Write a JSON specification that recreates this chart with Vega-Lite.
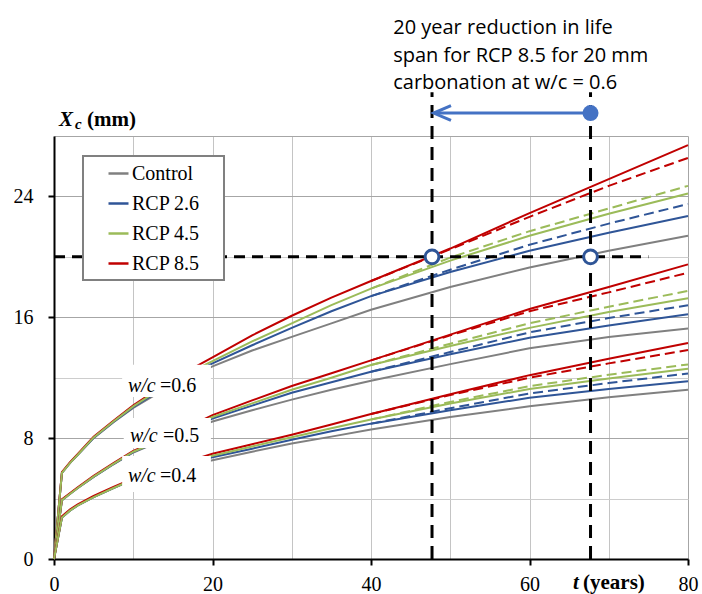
{
  "$schema": "https://vega.github.io/schema/vega-lite/v6.json",
  "width": 634,
  "height": 423,
  "autosize": {"type": "none"},
  "padding": {"left": 54, "top": 136, "right": 14, "bottom": 35},
  "background": "white",
  "config": {"view": {"stroke": null}, "legend": {"strokeWidth": 2}},
  "datasets": {
    "names": [
      {"k": "ctrl", "series": "Control"},
      {"k": "r26", "series": "RCP 2.6"},
      {"k": "r45", "series": "RCP 4.5"},
      {"k": "r85", "series": "RCP 8.5"}
    ],
    "solid": [
      {"w": "0.6", "t": 0, "ctrl": 0, "r26": 0, "r45": 0, "r85": 0},
      {"w": "0.6", "t": 1, "ctrl": 5.7, "r26": 5.7, "r45": 5.7, "r85": 5.75},
      {"w": "0.6", "t": 2, "ctrl": 6.35, "r26": 6.35, "r45": 6.35, "r85": 6.4},
      {"w": "0.6", "t": 3, "ctrl": 6.9, "r26": 6.9, "r45": 6.9, "r85": 6.95},
      {"w": "0.6", "t": 5, "ctrl": 8.0, "r26": 8.02, "r45": 8.05, "r85": 8.1},
      {"w": "0.6", "t": 7.5, "ctrl": 9.05, "r26": 9.07, "r45": 9.1, "r85": 9.15},
      {"w": "0.6", "t": 10, "ctrl": 10.0, "r26": 10.05, "r45": 10.1, "r85": 10.17},
      {"w": "0.6", "t": 15, "ctrl": 11.55, "r26": 11.7, "r45": 11.8, "r85": 11.9},
      {"w": "0.6", "t": 20, "ctrl": 12.75, "r26": 12.95, "r45": 13.1, "r85": 13.35},
      {"w": "0.6", "t": 25, "ctrl": 13.8, "r26": 14.15, "r45": 14.4, "r85": 14.8},
      {"w": "0.6", "t": 30, "ctrl": 14.7, "r26": 15.3, "r45": 15.6, "r85": 16.1},
      {"w": "0.6", "t": 35, "ctrl": 15.6, "r26": 16.4, "r45": 16.8, "r85": 17.3},
      {"w": "0.6", "t": 40, "ctrl": 16.5, "r26": 17.4, "r45": 17.9, "r85": 18.4},
      {"w": "0.6", "t": 50, "ctrl": 18.0, "r26": 19.0, "r45": 19.75, "r85": 20.55},
      {"w": "0.6", "t": 60, "ctrl": 19.3, "r26": 20.4, "r45": 21.4, "r85": 22.9},
      {"w": "0.6", "t": 70, "ctrl": 20.4, "r26": 21.6, "r45": 22.85, "r85": 25.15},
      {"w": "0.6", "t": 80, "ctrl": 21.4, "r26": 22.7, "r45": 24.2, "r85": 27.4},
      {"w": "0.5", "t": 0, "ctrl": 0, "r26": 0, "r45": 0, "r85": 0},
      {"w": "0.5", "t": 1, "ctrl": 3.9, "r26": 3.9, "r45": 3.9, "r85": 3.95},
      {"w": "0.5", "t": 2, "ctrl": 4.3, "r26": 4.3, "r45": 4.3, "r85": 4.35},
      {"w": "0.5", "t": 3, "ctrl": 4.7, "r26": 4.7, "r45": 4.7, "r85": 4.75},
      {"w": "0.5", "t": 5, "ctrl": 5.43, "r26": 5.44, "r45": 5.45, "r85": 5.5},
      {"w": "0.5", "t": 7.5, "ctrl": 6.27, "r26": 6.28, "r45": 6.3, "r85": 6.35},
      {"w": "0.5", "t": 10, "ctrl": 7.05, "r26": 7.08, "r45": 7.1, "r85": 7.15},
      {"w": "0.5", "t": 15, "ctrl": 8.15, "r26": 8.2, "r45": 8.22, "r85": 8.27},
      {"w": "0.5", "t": 20, "ctrl": 9.1, "r26": 9.3, "r45": 9.4, "r85": 9.52},
      {"w": "0.5", "t": 25, "ctrl": 9.85, "r26": 10.15, "r45": 10.3, "r85": 10.5},
      {"w": "0.5", "t": 30, "ctrl": 10.55, "r26": 11.0, "r45": 11.2, "r85": 11.45},
      {"w": "0.5", "t": 35, "ctrl": 11.2, "r26": 11.7, "r45": 12.0, "r85": 12.3},
      {"w": "0.5", "t": 40, "ctrl": 11.8, "r26": 12.4, "r45": 12.84, "r85": 13.15},
      {"w": "0.5", "t": 50, "ctrl": 12.9, "r26": 13.55, "r45": 14.1, "r85": 14.85},
      {"w": "0.5", "t": 60, "ctrl": 13.95, "r26": 14.65, "r45": 15.3, "r85": 16.55},
      {"w": "0.5", "t": 70, "ctrl": 14.7, "r26": 15.45, "r45": 16.35, "r85": 18.0},
      {"w": "0.5", "t": 80, "ctrl": 15.25, "r26": 16.2, "r45": 17.26, "r85": 19.5},
      {"w": "0.4", "t": 0, "ctrl": 0, "r26": 0, "r45": 0, "r85": 0},
      {"w": "0.4", "t": 1, "ctrl": 2.75, "r26": 2.75, "r45": 2.75, "r85": 2.82},
      {"w": "0.4", "t": 2, "ctrl": 3.2, "r26": 3.2, "r45": 3.2, "r85": 3.27},
      {"w": "0.4", "t": 3, "ctrl": 3.55, "r26": 3.55, "r45": 3.55, "r85": 3.62},
      {"w": "0.4", "t": 5, "ctrl": 4.1, "r26": 4.1, "r45": 4.1, "r85": 4.17},
      {"w": "0.4", "t": 7.5, "ctrl": 4.7, "r26": 4.7, "r45": 4.7, "r85": 4.77},
      {"w": "0.4", "t": 10, "ctrl": 5.25, "r26": 5.27, "r45": 5.28, "r85": 5.33},
      {"w": "0.4", "t": 15, "ctrl": 6.0, "r26": 6.05, "r45": 6.1, "r85": 6.15},
      {"w": "0.4", "t": 20, "ctrl": 6.53, "r26": 6.73, "r45": 6.84, "r85": 6.97},
      {"w": "0.4", "t": 25, "ctrl": 7.1, "r26": 7.3, "r45": 7.45, "r85": 7.6},
      {"w": "0.4", "t": 30, "ctrl": 7.64, "r26": 7.9, "r45": 8.06, "r85": 8.23},
      {"w": "0.4", "t": 35, "ctrl": 8.1, "r26": 8.45, "r45": 8.65, "r85": 8.9},
      {"w": "0.4", "t": 40, "ctrl": 8.57, "r26": 8.96, "r45": 9.23, "r85": 9.6},
      {"w": "0.4", "t": 50, "ctrl": 9.4, "r26": 9.85, "r45": 10.3, "r85": 10.9},
      {"w": "0.4", "t": 60, "ctrl": 10.11, "r26": 10.67, "r45": 11.25, "r85": 12.17},
      {"w": "0.4", "t": 70, "ctrl": 10.7, "r26": 11.25, "r45": 11.95, "r85": 13.25},
      {"w": "0.4", "t": 80, "ctrl": 11.2, "r26": 11.77, "r45": 12.6, "r85": 14.3}
    ],
    "dashed": [
      {"w": "0.6", "t": 40, "r26": 17.4, "r45": 17.9, "r85": 18.4},
      {"w": "0.6", "t": 50, "r26": 19.15, "r45": 19.95, "r85": 20.5},
      {"w": "0.6", "t": 60, "r26": 20.8, "r45": 21.7, "r85": 22.65},
      {"w": "0.6", "t": 70, "r26": 22.2, "r45": 23.2, "r85": 24.7},
      {"w": "0.6", "t": 80, "r26": 23.5, "r45": 24.7, "r85": 26.55},
      {"w": "0.5", "t": 40, "r26": 12.4, "r45": 12.84, "r85": 13.15},
      {"w": "0.5", "t": 50, "r26": 13.7, "r45": 14.25, "r85": 14.8},
      {"w": "0.5", "t": 60, "r26": 15.0, "r45": 15.6, "r85": 16.4},
      {"w": "0.5", "t": 70, "r26": 15.95, "r45": 16.7, "r85": 17.65},
      {"w": "0.5", "t": 80, "r26": 16.8, "r45": 17.75, "r85": 18.95},
      {"w": "0.4", "t": 40, "r26": 8.96, "r45": 9.23, "r85": 9.6},
      {"w": "0.4", "t": 50, "r26": 9.98, "r45": 10.4, "r85": 10.85},
      {"w": "0.4", "t": 60, "r26": 10.96, "r45": 11.44, "r85": 12.0},
      {"w": "0.4", "t": 70, "r26": 11.65, "r45": 12.2, "r85": 12.95},
      {"w": "0.4", "t": 80, "r26": 12.28, "r45": 12.88, "r85": 13.83}
    ],
    "boxes": [
      {"t": 8.6, "t2": 19.8, "X": 10.73, "X2": 12.85},
      {"t": 8.8, "t2": 19.8, "X": 7.35, "X2": 9.34},
      {"t": 8.6, "t2": 19.8, "X": 4.44, "X2": 6.82}
    ],
    "wclabels": [
      {"t": 9.33, "t2": 13.37, "X": 11.06, "lab": "=0.6"},
      {"t": 9.58, "t2": 13.75, "X": 7.75, "lab": "=0.5"},
      {"t": 9.33, "t2": 13.37, "X": 5.12, "lab": "=0.4"}
    ],
    "vrules": [
      {"t": 47.7, "X": 0, "X2": 30.9},
      {"t": 67.7, "X": 0, "X2": 30.9}
    ],
    "hrule": [
      {"t": 0, "t2": 75, "X": 20}
    ],
    "crossings": [
      {"t": 47.7, "X": 20},
      {"t": 67.7, "X": 20}
    ],
    "arrow": [
      {"t": 67.7, "t2": 48.1, "X": 29.52}
    ],
    "arrowhead": [
      {"t": 49.0, "X": 29.52}
    ],
    "note": [
      {"t": 42.8, "X": 34.72, "txt": "20 year reduction in life\nspan for RCP 8.5 for 20 mm\ncarbonation at w/c = 0.6"}
    ],
    "ytitle": [
      {"t": 0.63, "X": 28.69, "a": "X", "t2": 2.65, "X2": 28.49, "b": "c", "t3": 4.16, "c": "(mm)"}
    ],
    "xtitle": [
      {"t": 65.5, "X": -1.99, "a": "t", "t2": 66.75, "b": "(years)"}
    ]
  },
  "layer": [
    {
      "data": {"name": "solid"},
      "transform": [
        {"fold": ["ctrl", "r26", "r85", "r45"], "as": ["k", "X"]},
        {"lookup": "k", "from": {"data": {"name": "names"}, "key": "k", "fields": ["series"]}}
      ],
      "mark": {"type": "line", "strokeWidth": 2},
      "encoding": {
        "x": {
          "field": "t", "type": "quantitative",
          "scale": {"domain": [0, 80], "nice": false, "zero": true},
          "axis": {
            "title": null,
            "values": [0, 5, 10, 15, 20, 25, 30, 35, 40, 45, 50, 55, 60, 65, 70, 75, 80],
            "grid": true,
            "gridColor": {"condition": {"test": "datum.value === 80", "value": "#A6A6A6"}, "value": "#C4C4C4"},
            "gridWidth": 1,
            "labelExpr": "datum.value % 20 === 0 ? datum.label : ''",
            "labelFlush": false,
            "labelOverlap": false,
            "tickOpacity": {"condition": {"test": "datum.value % 20 === 0", "value": 1}, "value": 0},
            "domainColor": "black", "domainWidth": 2,
            "tickColor": "black", "tickWidth": 2, "tickSize": 6,
            "labelFont": "Liberation Serif", "labelFontSize": 20, "labelColor": "black",
            "labelPadding": 9
          }
        },
        "y": {
          "field": "X", "type": "quantitative",
          "scale": {"domain": [0, 28], "nice": false, "zero": true},
          "axis": {
            "title": null,
            "values": [0, 2, 4, 6, 8, 10, 12, 14, 16, 18, 20, 22, 24, 26, 28],
            "grid": true,
            "gridColor": {"condition": {"test": "datum.value % 8 === 0 || datum.value === 28", "value": "#A6A6A6"}, "value": "#CDCDCD"},
            "gridWidth": 1,
            "labelExpr": "datum.value % 8 === 0 ? datum.label : ''",
            "labelOverlap": false,
            "labelFlush": false,
            "tickOpacity": {"condition": {"test": "datum.value % 8 === 0", "value": 1}, "value": 0},
            "domainColor": "black", "domainWidth": 2,
            "tickColor": "black", "tickWidth": 2, "tickSize": 6,
            "labelFont": "Liberation Serif", "labelFontSize": 20, "labelColor": "black",
            "labelPadding": 15
          }
        },
        "color": {
          "field": "series", "type": "nominal",
          "scale": {"domain": ["Control", "RCP 2.6", "RCP 4.5", "RCP 8.5"], "range": ["#808080", "#2F5597", "#9BBB59", "#C00000"]},
          "legend": {
            "orient": "none", "legendX": 29, "legendY": 20,
            "title": "M", "titleOrient": "right", "titleOpacity": 0, "titleFontSize": 10, "titlePadding": 9,
            "symbolType": "stroke", "symbolSize": 400, "symbolStrokeWidth": 2.5,
            "labelFont": "Liberation Serif", "labelFontSize": 20, "labelColor": "black",
            "padding": 6, "rowPadding": 8, "strokeColor": "#808080", "fillColor": "white",
            "symbolOffset": 18, "labelOffset": 2
          }
        },
        "detail": {"field": "w", "type": "nominal"}
      }
    },
    {
      "data": {"name": "dashed"},
      "transform": [
        {"fold": ["r26", "r45", "r85"], "as": ["k", "X"]},
        {"lookup": "k", "from": {"data": {"name": "names"}, "key": "k", "fields": ["series"]}}
      ],
      "mark": {"type": "line", "strokeWidth": 2, "strokeDash": [10, 5]},
      "encoding": {
        "x": {"field": "t", "type": "quantitative"},
        "y": {"field": "X", "type": "quantitative"},
        "color": {"field": "series", "type": "nominal", "legend": null},
        "detail": {"field": "w", "type": "nominal"}
      }
    },
    {
      "data": {"name": "boxes"},
      "mark": {"type": "rect", "fill": "white"},
      "encoding": {
        "x": {"field": "t", "type": "quantitative"},
        "x2": {"field": "t2"},
        "y": {"field": "X", "type": "quantitative"},
        "y2": {"field": "X2"}
      }
    },
    {
      "data": {"name": "wclabels"},
      "mark": {"type": "text", "align": "left", "baseline": "alphabetic", "font": "Liberation Serif", "fontSize": 20, "fontStyle": "italic", "color": "black"},
      "encoding": {
        "x": {"field": "t", "type": "quantitative"},
        "y": {"field": "X", "type": "quantitative"},
        "text": {"value": "w/c"}
      }
    },
    {
      "data": {"name": "wclabels"},
      "mark": {"type": "text", "align": "left", "baseline": "alphabetic", "font": "Liberation Serif", "fontSize": 20, "color": "black"},
      "encoding": {
        "x": {"field": "t2", "type": "quantitative"},
        "y": {"field": "X", "type": "quantitative"},
        "text": {"field": "lab"}
      }
    },
    {
      "data": {"name": "vrules"},
      "mark": {"type": "rule", "color": "black", "strokeWidth": 3, "strokeDash": [13, 8]},
      "encoding": {
        "x": {"field": "t", "type": "quantitative"},
        "y": {"field": "X", "type": "quantitative"},
        "y2": {"field": "X2"}
      }
    },
    {
      "data": {"name": "hrule"},
      "mark": {"type": "rule", "color": "black", "strokeWidth": 3, "strokeDash": [11, 7]},
      "encoding": {
        "x": {"field": "t", "type": "quantitative"},
        "x2": {"field": "t2"},
        "y": {"field": "X", "type": "quantitative"}
      }
    },
    {
      "data": {"name": "crossings"},
      "mark": {"type": "point", "shape": "circle", "size": 190, "filled": false, "fill": "white", "fillOpacity": 1, "stroke": "#2F5597", "strokeWidth": 3, "opacity": 1},
      "encoding": {
        "x": {"field": "t", "type": "quantitative"},
        "y": {"field": "X", "type": "quantitative"}
      }
    },
    {
      "data": {"name": "arrow"},
      "mark": {"type": "rule", "color": "#4472C4", "strokeWidth": 3},
      "encoding": {
        "x": {"field": "t", "type": "quantitative"},
        "x2": {"field": "t2"},
        "y": {"field": "X", "type": "quantitative"}
      }
    },
    {
      "data": {"name": "arrow"},
      "mark": {"type": "point", "shape": "circle", "size": 256, "filled": true, "color": "#4472C4", "opacity": 1},
      "encoding": {
        "x": {"field": "t", "type": "quantitative"},
        "y": {"field": "X", "type": "quantitative"}
      }
    },
    {
      "data": {"name": "arrowhead"},
      "mark": {"type": "point", "shape": "M1,-0.85L-1,0L1,0.85", "size": 300, "filled": false, "stroke": "#4472C4", "strokeWidth": 3, "opacity": 1},
      "encoding": {
        "x": {"field": "t", "type": "quantitative"},
        "y": {"field": "X", "type": "quantitative"}
      }
    },
    {
      "data": {"name": "note"},
      "mark": {"type": "text", "align": "left", "baseline": "alphabetic", "font": "Open Sans", "fontSize": 20, "lineHeight": 27.5, "lineBreak": "\n", "color": "black"},
      "encoding": {
        "x": {"field": "t", "type": "quantitative"},
        "y": {"field": "X", "type": "quantitative"},
        "text": {"field": "txt"}
      }
    },
    {
      "data": {"name": "ytitle"},
      "mark": {"type": "text", "align": "left", "baseline": "alphabetic", "font": "Liberation Serif", "fontSize": 21, "fontStyle": "italic", "fontWeight": "bold", "color": "black"},
      "encoding": {
        "x": {"field": "t", "type": "quantitative"},
        "y": {"field": "X", "type": "quantitative"},
        "text": {"field": "a"}
      }
    },
    {
      "data": {"name": "ytitle"},
      "mark": {"type": "text", "align": "left", "baseline": "alphabetic", "font": "Liberation Serif", "fontSize": 15, "fontStyle": "italic", "fontWeight": "bold", "color": "black"},
      "encoding": {
        "x": {"field": "t2", "type": "quantitative"},
        "y": {"field": "X2", "type": "quantitative"},
        "text": {"field": "b"}
      }
    },
    {
      "data": {"name": "ytitle"},
      "mark": {"type": "text", "align": "left", "baseline": "alphabetic", "font": "Liberation Serif", "fontSize": 21, "fontWeight": "bold", "color": "black"},
      "encoding": {
        "x": {"field": "t3", "type": "quantitative"},
        "y": {"field": "X", "type": "quantitative"},
        "text": {"field": "c"}
      }
    },
    {
      "data": {"name": "xtitle"},
      "mark": {"type": "text", "align": "left", "baseline": "alphabetic", "font": "Liberation Serif", "fontSize": 21, "fontStyle": "italic", "fontWeight": "bold", "color": "black"},
      "encoding": {
        "x": {"field": "t", "type": "quantitative"},
        "y": {"field": "X", "type": "quantitative"},
        "text": {"field": "a"}
      }
    },
    {
      "data": {"name": "xtitle"},
      "mark": {"type": "text", "align": "left", "baseline": "alphabetic", "font": "Liberation Serif", "fontSize": 21, "fontWeight": "bold", "color": "black"},
      "encoding": {
        "x": {"field": "t2", "type": "quantitative"},
        "y": {"field": "X", "type": "quantitative"},
        "text": {"field": "b"}
      }
    }
  ]
}
